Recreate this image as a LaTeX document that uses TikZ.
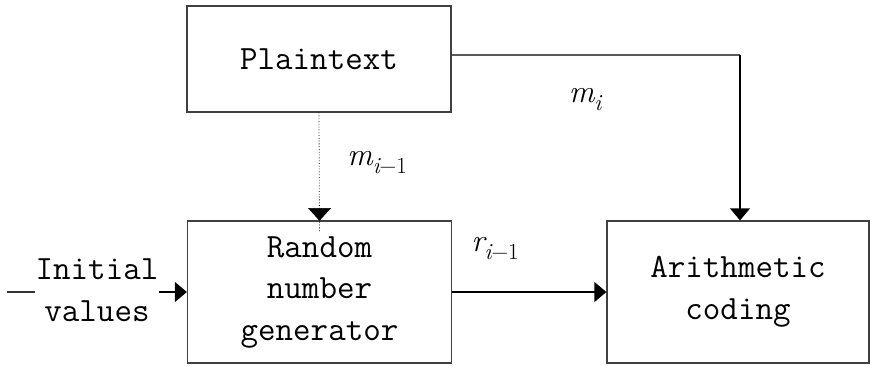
\documentclass[tikz,border=0pt]{standalone}
\usepackage{fontspec}
\usetikzlibrary{arrows.meta,positioning}
% italic symbol with a lowered subscript
\newcommand{\symsub}[2]{{\rmfamily\fontsize{32}{32}\selectfont\itshape #1\raisebox{-8pt}{\fontsize{23}{23}\selectfont #2}}}
\begin{document}
\begin{tikzpicture}[x=1pt,y=-1pt,
  every node/.style={font=\ttfamily\fontsize{34}{41.5}\selectfont,align=center},
  block/.style={draw=black!75,line width=1.3pt,minimum width=264pt,inner sep=0pt},
  lbl/.style={inner sep=0pt},
  flow/.style={line width=1.3pt,-{Triangle[length=12pt,width=20pt]}},
]
\useasboundingbox (0,0) rectangle (871,365);

% boxes
\node[block,minimum height=106pt] (plain) at (319,59) {Plaintext};
\node[block,minimum height=142pt] (rng) at (319.5,292) {Random\\number\\generator};
\node[block,minimum width=262pt,minimum height=142pt] (arith) at (738,292) {Arithmetic\\coding};

% initial values input
\coordinate (start) at (7,292);
\node[inner sep=1pt] (init) at (97,290) {Initial\\values};
\draw[line width=1.3pt,black!80] (start) -- (start -| init.west);
\draw[flow] (init.east |- start) -- (start -| rng.west);

% plaintext feedback into the generator
\draw[dotted,black,line width=0.8pt] (plain.south) -- ([yshift=-12pt]rng.north);
\draw[fill=black] (rng.north) -- ++(-11,-12) -- ++(22,0) -- cycle;
\node[lbl] (mprev) at (377,163) {\symsub{m}{i\upshape −1}};

% plaintext symbol to the coder
\coordinate (corner) at (740,55);
\draw[line width=1.3pt,black!65] (plain.east |- corner) -- (corner);
\draw[flow] (corner) -- (corner |- arith.north);
\node[lbl] (mi) at (585,100) {\symsub{m}{i}};

% random number to the coder
\draw[flow] (rng.east) -- (arith.west);
\node[lbl] (rprev) at (495,249) {\symsub{r}{i\upshape −1}};
\end{tikzpicture}
\end{document}
